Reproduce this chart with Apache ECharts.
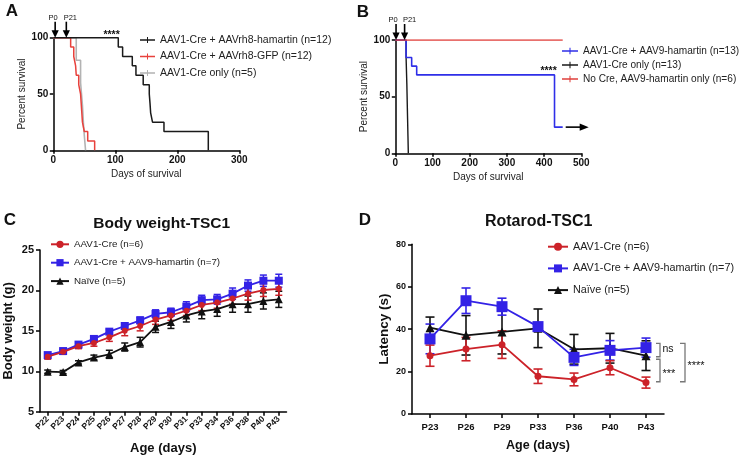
<!DOCTYPE html>
<html><head><meta charset="utf-8">
<script src="https://cdn.jsdelivr.net/npm/echarts@6/dist/echarts.min.js"></script>
<style>html,body{margin:0;padding:0;background:#fff}#c{width:744px;height:459px}</style>
</head><body><div id="c"></div><script>
// ---------- Panel A: Kaplan-Meier (days, % survival) ----------
const aHamName = 'AAV1-Cre + AAVrh8-hamartin (n=12)';
const aHamT = [0, 104.8, 111.8, 127.4, 133.3, 145, 154.8, 156, 157, 160, 178.5, 250];
const aHamS = [100, 91.7, 83.3, 75, 66.7, 58.3, 50, 41.7, 33.3, 25, 16.7, 0];
const aGfpName = 'AAV1-Cre + AAVrh8-GFP (n=12)';
const aGfpT = [0, 28, 33, 36, 37, 41, 44, 45, 46, 47, 50, 55.5, 66.7];
const aGfpS = [100, 91.7, 83.3, 75, 66.7, 58.3, 50, 41.7, 33.3, 25, 16.7, 8.3, 0];
const aCreName = 'AAV1-Cre only (n=5)';
const aCreT = [0, 37, 44, 47, 49, 52];
const aCreS = [100, 80, 60, 40, 20, 0];
const aArrowDays = [3, 21];
const aArrowLabels = ['P0', 'P21'];
const aXTicks = [0, 300, 100];   // min, max, interval
const aYTicks = [0, 100, 50];

// ---------- Panel B ----------
const bHamName = 'AAV1-Cre + AAV9-hamartin (n=13)';
const bHamT = [0, 29, 44, 57.5, 428, 450];
const bHamS = [100, 84.6, 76.9, 69.2, 23.1, 23.1];
const bCreName = 'AAV1-Cre only (n=13)';
const bCreT = [0, 29, 31, 33, 34, 35];
const bCreS = [100, 84.6, 61.5, 30.8, 15.4, 0];
const bNoCreName = 'No Cre, AAV9-hamartin only (n=6)';
const bNoCreT = [0, 450];
const bNoCreS = [100, 100];
const bArrowDays = [2, 25];
const bArrowLabels = ['P0', 'P21'];
const bXTicks = [0, 500, 100];
const bYTicks = [0, 100, 50];

// ---------- Panel C: Body weight ----------
const cCats = ['P22','P23','P24','P25','P26','P27','P28','P29','P30','P31','P33','P34','P36','P38','P40','P43'];
const cRed = [11.8,12.4,13.1,13.5,14.2,15.0,15.6,16.4,16.9,17.5,18.2,18.5,19.0,19.6,20.05,20.2];
const cRedErr = [0.3,0.3,0.3,0.4,0.5,0.6,0.6,0.6,0.6,0.6,0.7,0.7,0.7,0.8,0.8,0.8];
const cBlue = [12.0,12.5,13.3,14.0,14.9,15.6,16.3,17.1,17.3,18.0,18.8,18.9,19.6,20.6,21.2,21.2];
const cBlueErr = [0.2,0.2,0.3,0.3,0.3,0.4,0.4,0.5,0.5,0.6,0.6,0.6,0.7,0.7,0.7,0.8];
const cBlack = [9.95,9.9,11.1,11.7,12.1,13.0,13.6,15.5,16.1,16.9,17.4,17.7,18.3,18.3,18.7,18.9];
const cBlackErr = [0.2,0.2,0.2,0.3,0.5,0.5,0.6,0.7,0.8,0.8,0.9,0.9,1.0,1.0,1.0,1.0];
const cYTicks = [5, 25, 5];

// ---------- Panel D: Rotarod ----------
const dCats = ['P23','P26','P29','P33','P36','P40','P43'];
const dRed = [27.5,30.6,32.7,17.8,16.3,21.8,14.8];
const dRedErr = [5.0,5.5,6.5,3.4,3.0,3.3,2.6];
const dBlue = [35.4,53.4,50.6,41.2,26.7,30.0,31.3];
const dBlueErr = [7.0,6.0,4.0,1.0,3.8,4.6,4.5];
const dBlack = [40.7,37.1,38.7,40.4,30.5,31.0,27.5];
const dBlackErr = [5.0,9.3,10.4,9.1,7.0,7.0,7.0];
const dYTicks = [0, 80, 20];
// significance brackets: [low, high] in latency units, label
const dBrackets = [
  {lo: 27.0, hi: 33.3, text: 'ns', col: 0},
  {lo: 15.2, hi: 25.8, text: '***', col: 0},
  {lo: 15.2, hi: 33.3, text: '****', col: 1}
];

const redName = 'AAV1-Cre (n=6)';
const blueName = 'AAV1-Cre + AAV9-hamartin (n=7)';
const blackName = 'Naïve (n=5)';

const FF = '"Liberation Sans", Arial, Helvetica, sans-serif';
const RED = '#cc2229', BLUE = '#3322e6', BLK = '#111';
// legend icon for survival curves: a line with a small tick mark
const KM_ICON = 'path://M0,3.3L15,3.3L15,4.7L0,4.7Z M7,1L8,1L8,7L7,7Z';

const chart = echarts.init(document.getElementById('c'), null, {renderer: 'canvas'});

function km(t, s) { return t.map((v, i) => [v, s[i]]); }
function errData(vals, errs) { return vals.map((v, i) => [i, v - errs[i], v + errs[i]]); }
function errRender(capW, lw) {
  return function (params, api) {
    const x = api.value(0), lo = api.value(1), hi = api.value(2);
    const p1 = api.coord([x, hi]), p2 = api.coord([x, lo]);
    const st = {stroke: api.visual('color'), lineWidth: lw};
    return {type: 'group', children: [
      {type: 'line', shape: {x1: p1[0], y1: p1[1], x2: p2[0], y2: p2[1]}, style: st},
      {type: 'line', shape: {x1: p1[0] - capW, y1: p1[1], x2: p1[0] + capW, y2: p1[1]}, style: st},
      {type: 'line', shape: {x1: p2[0] - capW, y1: p2[1], x2: p2[0] + capW, y2: p2[1]}, style: st}
    ]};
  };
}

const axLine = {show: true, lineStyle: {color: '#000', width: 1.5}};
const axTick = (len) => ({show: true, inside: false, length: len, lineStyle: {color: '#000', width: 1.5}});

function valAxis(gi, ticks, o) {
  return Object.assign({
    type: 'value', gridIndex: gi, min: ticks[0], max: ticks[1], interval: ticks[2],
    axisLine: axLine, axisTick: axTick(3.5), splitLine: {show: false},
    axisLabel: {fontFamily: FF, fontWeight: 'bold', fontSize: 10, color: '#111', margin: 5}
  }, o);
}
function kmLegend(names) { return names.map(n => ({name: n, icon: KM_ICON})); }

const option = {
  animation: false,
  backgroundColor: '#fff',
  textStyle: {fontFamily: FF},
  grid: [
    {left: 53.3, top: 37.7, width: 186, height: 112.6, outerBoundsMode: 'none'},
    {left: 395.3, top: 40, width: 186, height: 113.3, outerBoundsMode: 'none'},
    {left: 40, top: 250, width: 246.5, height: 161.7, outerBoundsMode: 'none'},
    {left: 412, top: 244.3, width: 252, height: 169.7, outerBoundsMode: 'none'}
  ],
  xAxis: [
    valAxis(0, aXTicks, {name: 'Days of survival', nameLocation: 'middle', nameGap: 19,
      nameTextStyle: {fontFamily: FF, fontSize: 10, color: '#222'}}),
    valAxis(1, bXTicks, {name: 'Days of survival', nameLocation: 'middle', nameGap: 19,
      nameTextStyle: {fontFamily: FF, fontSize: 10, color: '#222'}}),
    {type: 'category', gridIndex: 2, data: cCats, boundaryGap: true,
      axisLine: axLine, axisTick: Object.assign(axTick(4), {alignWithLabel: true}),
      axisLabel: {interval: 0, rotate: 45, fontFamily: FF, fontWeight: 'bold', fontSize: 8.5, color: '#111', margin: 6},
      name: 'Age (days)', nameLocation: 'middle', nameGap: 30,
      nameTextStyle: {fontFamily: FF, fontWeight: 'bold', fontSize: 13, color: '#111'}},
    {type: 'category', gridIndex: 3, data: dCats, boundaryGap: true,
      axisLine: axLine, axisTick: Object.assign(axTick(4), {alignWithLabel: true}),
      axisLabel: {interval: 0, fontFamily: FF, fontWeight: 'bold', fontSize: 9.5, color: '#111', margin: 8},
      name: 'Age (days)', nameLocation: 'middle', nameGap: 25,
      nameTextStyle: {fontFamily: FF, fontWeight: 'bold', fontSize: 12.5, color: '#111'}}
  ],
  yAxis: [
    valAxis(0, aYTicks, {name: 'Percent survival', nameLocation: 'middle', nameGap: 24,
      nameTextStyle: {fontFamily: FF, fontSize: 10, color: '#222'}}),
    valAxis(1, bYTicks, {name: 'Percent survival', nameLocation: 'middle', nameGap: 23,
      nameTextStyle: {fontFamily: FF, fontSize: 10, color: '#222'}}),
    valAxis(2, cYTicks, {axisTick: axTick(4), axisLabel: {fontFamily: FF, fontWeight: 'bold', fontSize: 11, color: '#111', margin: 6},
      name: 'Body weight (g)', nameLocation: 'middle', nameGap: 25,
      nameTextStyle: {fontFamily: FF, fontWeight: 'bold', fontSize: 13, color: '#111'}}),
    valAxis(3, dYTicks, {axisTick: axTick(4), axisLabel: {fontFamily: FF, fontWeight: 'bold', fontSize: 9, color: '#111', margin: 6},
      name: 'Latency (s)', nameLocation: 'middle', nameGap: 21,
      nameTextStyle: {fontFamily: FF, fontWeight: 'bold', fontSize: 13.5, color: '#111'}})
  ],
  legend: [
    {left: 140, top: 34, orient: 'vertical', padding: 0, itemGap: 4.5, itemWidth: 15, itemHeight: 8,
      data: kmLegend([aHamName, aGfpName, aCreName]), selectedMode: false,
      textStyle: {fontFamily: FF, fontSize: 10.5, color: '#222', lineHeight: 12}},
    {left: 562, top: 45, orient: 'vertical', padding: 0, itemGap: 2, itemWidth: 16, itemHeight: 8,
      data: kmLegend([bHamName, bCreName, bNoCreName]), selectedMode: false,
      textStyle: {fontFamily: FF, fontSize: 10.1, color: '#222', lineHeight: 12}},
    {left: 50, top: 238.3, orient: 'vertical', padding: 0, itemGap: 6.4, itemWidth: 18, itemHeight: 9,
      data: [redName, blueName, blackName], selectedMode: false,
      textStyle: {fontFamily: FF, fontSize: 9.8, color: '#222', lineHeight: 12}},
    {left: 547, top: 240.7, orient: 'vertical', padding: 0, itemGap: 9.7, itemWidth: 20, itemHeight: 10,
      data: [redName, blueName, blackName], selectedMode: false,
      textStyle: {fontFamily: FF, fontSize: 10.8, color: '#222', lineHeight: 12}}
  ],
  series: [
    // A
    {type: 'line', name: aCreName, xAxisIndex: 0, yAxisIndex: 0, step: 'end', data: km(aCreT, aCreS),
      symbol: 'none', lineStyle: {color: '#b3b3b3', width: 1.6}, itemStyle: {color: '#b3b3b3'}},
    {type: 'line', name: aGfpName, xAxisIndex: 0, yAxisIndex: 0, step: 'end', data: km(aGfpT, aGfpS),
      symbol: 'none', lineStyle: {color: '#e8413c', width: 1.5}, itemStyle: {color: '#e8413c'}},
    {type: 'line', name: aHamName, xAxisIndex: 0, yAxisIndex: 0, step: 'end', data: km(aHamT, aHamS),
      symbol: 'none', lineStyle: {color: '#1a1a1a', width: 1.5}, itemStyle: {color: '#1a1a1a'}},
    // B
    {type: 'line', name: bCreName, xAxisIndex: 1, yAxisIndex: 1, step: 'end', data: km(bCreT, bCreS),
      symbol: 'none', lineStyle: {color: '#1a1a1a', width: 1.4}, itemStyle: {color: '#1a1a1a'}},
    {type: 'line', name: bHamName, xAxisIndex: 1, yAxisIndex: 1, step: 'end', data: km(bHamT, bHamS),
      symbol: 'none', lineStyle: {color: '#2f2fe8', width: 1.6}, itemStyle: {color: '#2f2fe8'}},
    {type: 'line', name: bNoCreName, xAxisIndex: 1, yAxisIndex: 1, step: 'end', data: km(bNoCreT, bNoCreS),
      symbol: 'none', lineStyle: {color: '#e0403c', width: 1.4}, itemStyle: {color: '#e0403c'}},
    // C error bars
    {type: 'custom', name: 'cErrBlack', xAxisIndex: 2, yAxisIndex: 2, data: errData(cBlack, cBlackErr),
      renderItem: errRender(3.5, 1.5), itemStyle: {color: BLK}, z: 1},
    {type: 'custom', name: 'cErrBlue', xAxisIndex: 2, yAxisIndex: 2, data: errData(cBlue, cBlueErr),
      renderItem: errRender(3.5, 1.5), itemStyle: {color: BLUE}, z: 1},
    {type: 'custom', name: 'cErrRed', xAxisIndex: 2, yAxisIndex: 2, data: errData(cRed, cRedErr),
      renderItem: errRender(3.5, 1.5), itemStyle: {color: RED}, z: 1},
    // C lines
    {type: 'line', name: blackName, xAxisIndex: 2, yAxisIndex: 2, data: cBlack, symbol: 'triangle', symbolSize: 8,
      lineStyle: {color: BLK, width: 1.8}, itemStyle: {color: BLK}, z: 3},
    {type: 'line', name: blueName, xAxisIndex: 2, yAxisIndex: 2, data: cBlue, symbol: 'rect', symbolSize: 8,
      lineStyle: {color: BLUE, width: 1.8}, itemStyle: {color: BLUE}, z: 4},
    {type: 'line', name: redName, xAxisIndex: 2, yAxisIndex: 2, data: cRed, symbol: 'circle', symbolSize: 6,
      lineStyle: {color: RED, width: 1.8}, itemStyle: {color: RED}, z: 5},
    // D error bars
    {type: 'custom', name: 'dErrBlack', xAxisIndex: 3, yAxisIndex: 3, data: errData(dBlack, dBlackErr),
      renderItem: errRender(4.5, 1.6), itemStyle: {color: BLK}, z: 1},
    {type: 'custom', name: 'dErrBlue', xAxisIndex: 3, yAxisIndex: 3, data: errData(dBlue, dBlueErr),
      renderItem: errRender(4.5, 1.6), itemStyle: {color: BLUE}, z: 1},
    {type: 'custom', name: 'dErrRed', xAxisIndex: 3, yAxisIndex: 3, data: errData(dRed, dRedErr),
      renderItem: errRender(4.5, 1.6), itemStyle: {color: RED}, z: 1},
    // D lines
    {type: 'line', name: blackName, xAxisIndex: 3, yAxisIndex: 3, data: dBlack, symbol: 'triangle', symbolSize: 9,
      lineStyle: {color: BLK, width: 1.8}, itemStyle: {color: BLK}, z: 3},
    {type: 'line', name: blueName, xAxisIndex: 3, yAxisIndex: 3, data: dBlue, symbol: 'rect', symbolSize: 11,
      lineStyle: {color: BLUE, width: 1.8}, itemStyle: {color: BLUE}, z: 4},
    {type: 'line', name: redName, xAxisIndex: 3, yAxisIndex: 3, data: dRed, symbol: 'circle', symbolSize: 7,
      lineStyle: {color: RED, width: 1.8}, itemStyle: {color: RED}, z: 5}
  ]
};
chart.setOption(option);

// ---------- annotations positioned through the axes ----------
const P = (g, pt) => chart.convertToPixel({gridIndex: g}, pt);
const g = [];
function txt(x, y, s, size, weight, align) {
  g.push({type: 'text', x: x, y: y, style: {text: s, fontFamily: FF, fontSize: size, fontWeight: weight || 'normal',
    fill: '#111', align: align || 'center', verticalAlign: 'middle'}, z: 20});
}
function downArrow(gi, day, label, dx) {
  const tip = P(gi, [day, 100]);
  const x = tip[0], y = tip[1];
  g.push({type: 'line', shape: {x1: x, y1: y - 16, x2: x, y2: y - 6}, style: {stroke: '#000', lineWidth: 1.6}, z: 20});
  g.push({type: 'polygon', shape: {points: [[x - 3.6, y - 7.5], [x + 3.6, y - 7.5], [x, y]]}, style: {fill: '#000'}, z: 20});
  txt(x + dx, y - 20, label, 7.5);
}
downArrow(0, aArrowDays[0], aArrowLabels[0], -2);
downArrow(0, aArrowDays[1], aArrowLabels[1], 4);
downArrow(1, bArrowDays[0], bArrowLabels[0], -3);
downArrow(1, bArrowDays[1], bArrowLabels[1], 5);
// significance stars on survival plots
let p = P(0, [94, 100]); txt(p[0], p[1] - 3, '****', 10.5, 'bold');
p = P(1, [412, 69.2]); txt(p[0], p[1] - 4, '****', 10.5, 'bold');
// right arrow at end of blue curve in B
p = P(1, [bHamT[bHamT.length - 1], bHamS[bHamS.length - 1]]);
g.push({type: 'line', shape: {x1: p[0] + 3, y1: p[1], x2: p[0] + 19, y2: p[1]}, style: {stroke: '#000', lineWidth: 1.6}, z: 20});
g.push({type: 'polygon', shape: {points: [[p[0] + 17, p[1] - 3.6], [p[0] + 17, p[1] + 3.6], [p[0] + 26, p[1]]]}, style: {fill: '#000'}, z: 20});
// brackets on D
const lastIdx = dCats.length - 1;
dBrackets.forEach(b => {
  const top = P(3, [lastIdx, b.hi]), bot = P(3, [lastIdx, b.lo]);
  const bx = top[0] + (b.col === 0 ? 14 : 39);
  const sw = b.col === 0 ? 4 : 5;
  g.push({type: 'polyline', shape: {points: [[bx - sw, top[1]], [bx, top[1]], [bx, bot[1]], [bx - sw, bot[1]]]},
    style: {stroke: '#777', lineWidth: 1.3, fill: null}, z: 20});
  txt(bx + 2.5, (top[1] + bot[1]) / 2 + (b.text === 'ns' ? -1 : 3), b.text, b.text === 'ns' ? 10.5 : 11, 'normal', 'left');
});
// panel letters & titles
txt(12, 11, 'A', 17, 'bold'); txt(363, 12, 'B', 17, 'bold');
txt(10, 220, 'C', 17, 'bold'); txt(365, 220, 'D', 17, 'bold');
txt(161.7, 224, 'Body weight-TSC1', 15.5, 'bold');
txt(538.7, 221.7, 'Rotarod-TSC1', 16, 'bold');
chart.setOption({graphic: g});
</script></body></html>
